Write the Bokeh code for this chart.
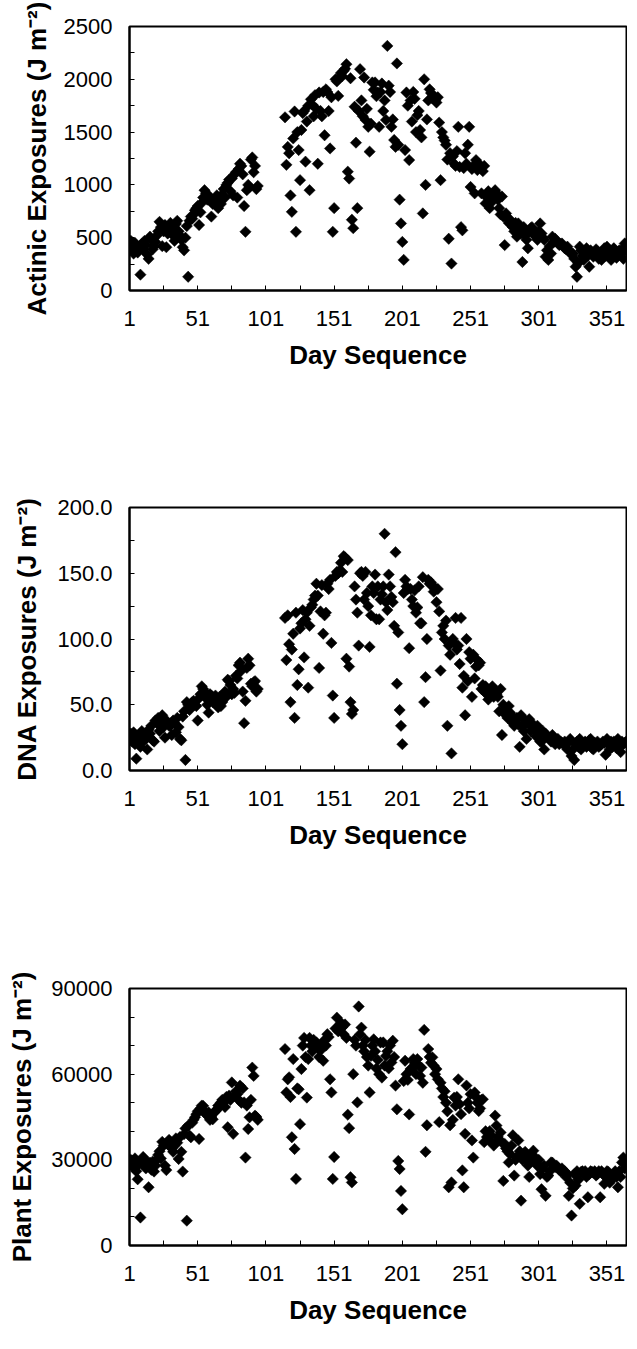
import numpy as np
from bokeh.plotting import figure
from bokeh.layouts import column
from bokeh.models import FixedTicker, Range1d, NumeralTickFormatter
from bokeh.embed import file_html
from bokeh.resources import INLINE

# ---------------- data ----------------
# days 1..95 (before gap) and 115..365 (after gap)
actinic_pre = [
    400, 470, 380, 350, 450, 420, 360, 410, 150, 440,
    390, 470, 430, 340, 300, 510, 480, 390, 420, 460,
    520, 560, 650, 600, 420, 560, 620, 410, 540, 600,
    640, 580, 520, 470, 630, 660, 560, 520, 480, 410,
    380, 500, 610, 130, 660, 700, 680, 720, 760, 780,
    800, 620, 740, 830, 880, 950, 920, 860, 900, 870,
    700, 820, 840, 860, 900, 780, 880, 820, 910, 960,
    880, 1000, 1020, 1050, 940, 1060, 900, 1100, 1120, 880,
    1150, 1200, 1180, 1100, 800, 556, 950, 1000, 980, 1240,
    1260, 1120, 1180, 960, 990,
]
actinic_post = [
    1640, 1190, 1360, 1300, 900, 745, 1440, 1695, 556, 1500,
    1330, 1045, 1520, 1680, 1700, 1220, 1600, 1750, 950, 1810,
    1760, 1650, 1850, 1720, 1200, 1875, 1700, 1650, 1880, 1470,
    1905, 1880, 1700, 1345, 1830, 556, 780, 2000, 1980, 1843,
    2020, 2060, 2030, 2080, 2100, 2143, 1125, 1060, 2010, 670,
    590, 1740, 1400, 780, 1700, 2096, 1800, 1650, 2017, 1615,
    1720, 1550, 1315, 1580, 1970, 1900, 1970, 1840, 1875, 1550,
    1880, 1960, 1700, 1800, 1615, 2316, 1940, 1880, 1550, 1620,
    1425, 1360, 2150, 1380, 860, 635, 460, 290, 1330, 1875,
    1750, 1235, 1800, 1600, 1880, 1815, 1500, 1660, 1700, 1520,
    1450, 730, 2000, 1000, 1620, 1800, 1905, 1870, 1820, 1843,
    1800, 1780, 1830, 1590, 1045, 1500, 1450, 1420, 1380, 1240,
    490, 1300, 255, 1270, 1200, 1180, 1320, 1550, 1170, 600,
    570, 1160, 1300, 1200, 1380, 1550, 980, 1150, 1180, 920,
    1235, 1140, 1200, 1170, 920, 1130, 1180, 825, 880, 940,
    780, 830, 890, 930, 950, 920, 860, 780, 720, 890,
    700, 430, 730, 680, 640, 670, 620, 600, 560, 640,
    510, 635, 580, 540, 270, 600, 520, 480, 400, 560,
    590, 600, 570, 520, 510, 480, 560, 635, 540, 500,
    480, 320, 380, 290, 420, 350, 510, 460, 490, 470,
    450, 430, 440, 445, 420, 400, 390, 415, 380, 360,
    340, 350, 300, 225, 130, 260, 415, 380, 330, 290,
    360, 400, 330, 225, 380, 350, 320, 350, 390, 370,
    300, 340, 290, 360, 400, 330, 415, 380, 340, 290,
    360, 400, 380, 310, 330, 380, 350, 390, 300, 445,
    380,
]

dna_pre = [
    24, 28, 22, 29, 20, 9, 26, 25, 18, 30,
    22, 27, 24, 16, 31, 28, 34, 23, 22, 38,
    36, 40, 30, 35, 42, 33, 25, 38, 36, 34,
    34, 27, 38, 36, 29, 40, 33, 24, 23, 41,
    45, 8, 52, 50, 46, 48, 52, 53, 50, 49,
    38, 55, 58, 64, 62, 60, 55, 50, 44, 58,
    57, 52, 55, 57, 50, 48, 56, 49, 52, 58,
    60, 56, 69, 68, 65, 58, 62, 59, 72, 70,
    80, 82, 76, 60, 36, 53, 78, 85, 80, 66,
    64, 67, 68, 60, 62,
]
dna_post = [
    116, 84, 118, 96, 52, 92, 104, 40, 120, 65,
    77, 108, 112, 122, 86, 115, 120, 63, 110, 124,
    126, 130, 133, 142, 133, 78, 121, 141, 104, 118,
    120, 142, 138, 145, 97, 57, 40, 148, 151, 150,
    152, 158, 151, 163, 162, 85, 160, 79, 52, 43,
    46, 140, 130, 120, 95, 150, 151, 148, 130, 151,
    135, 125, 94, 118, 140, 135, 149, 115, 140, 115,
    130, 134, 140, 180, 128, 122, 149, 140, 132, 128,
    110, 166, 66, 105, 46, 34, 20, 135, 145, 140,
    138, 93, 138, 130, 125, 137, 120, 124, 140, 112,
    112, 147, 52, 71, 100, 145, 142, 143, 141, 136,
    138, 128, 138, 121, 76, 105, 110, 100, 114, 34,
    95, 88, 13, 100, 97, 116, 92, 95, 81, 116,
    63, 72, 42, 100, 68, 90, 85, 56, 88, 70,
    79, 84, 80, 82, 62, 65, 60, 64, 58, 54,
    60, 62, 64, 56, 60, 58, 56, 45, 62, 27,
    50, 45, 42, 40, 49, 44, 42, 36, 34, 38,
    40, 35, 18, 42, 33, 30, 38, 24, 36, 39,
    30, 36, 33, 31, 26, 34, 28, 22, 22, 30,
    16, 28, 26, 25, 24, 22, 27, 22, 20, 23,
    24, 20, 22, 21, 20, 22, 20, 16, 22, 24,
    11, 16, 8, 20, 22, 18, 24, 16, 21, 20,
    22, 18, 21, 23, 24, 17, 16, 21, 20, 22,
    18, 19, 20, 22, 21, 12, 24, 20, 16, 22,
    18, 22, 20, 17, 24, 20, 14, 22, 20, 21,
    22,
]

plant_pre = [
    28000, 30000, 29600, 27300, 30500, 26000, 23200, 28500, 9800, 29000,
    31000, 30300, 27000, 28000, 20400, 29000, 26500, 29400, 25900, 28000,
    30000, 31700, 33000, 30500, 36300, 35000, 28000, 26400, 35500, 37000,
    36300, 34000, 32800, 35000, 37500, 36000, 30300, 38000, 32800, 25900,
    39000, 41000, 8700, 42000, 38500, 37900, 43000, 44000, 44900, 46000,
    47000, 37300, 48000, 49000, 48900, 47000, 46000, 45500, 46600, 44000,
    45000, 44200, 46500, 47000, 47700, 49000, 48500, 50100, 51000, 50000,
    48500, 52000, 41400, 52500, 51000, 57100, 39100, 52400, 54000, 53000,
    51000, 56000, 50000, 55000, 50100, 30800, 49000, 40800, 44900, 51000,
    62300, 59400, 45500, 45000, 44000,
]
plant_post = [
    68800, 53600, 58200, 58900, 52000, 37900, 65300, 33800, 23300, 55000,
    54700, 42500, 61800, 70000, 72700, 66000, 51800, 65300, 72700, 70000,
    68000, 72000, 70500, 71100, 69000, 66000, 70000, 68800, 64700, 72000,
    70000, 74000, 73000, 58200, 53600, 23300, 31000, 76000, 79800, 75000,
    77000, 78000, 76500, 74000, 77400, 72700, 45800, 41100, 23900, 22100,
    60000, 72000, 70000, 50100, 83700, 74000, 76300, 70000, 68000, 72000,
    66000, 63000, 53600, 66400, 70000, 72200, 68000, 62000, 65000, 60000,
    71100, 58800, 71100, 63000, 66400, 68000, 62000, 70000, 64100, 71700,
    66000, 56000, 47700, 29600, 26800, 19100, 12700, 57600, 64700, 60000,
    58000, 45900, 61800, 62000, 65300, 64000, 60000, 65300, 63000, 59400,
    62300, 57000, 75500, 32800, 42100, 68800, 66000, 64000, 65900, 63000,
    60000, 61800, 58200, 43200, 57000, 55000, 52000, 54000, 50000, 47000,
    20400, 42100, 22100, 44000, 51800, 49000, 52000, 58200, 49500, 46000,
    26300, 20400, 39100, 56000, 50000, 48000, 53000, 36800, 30800, 53600,
    52000, 50000, 47100, 48000, 51000, 51200, 36200, 40000, 38000, 37000,
    40000, 38600, 36000, 35000, 45500, 42000, 38000, 37000, 39600, 36000,
    22600, 35600, 34000, 33000, 29100, 32000, 35000, 38600, 24500, 30000,
    31000, 36800, 33000, 15700, 30000, 32000, 32800, 30000, 28000, 24000,
    31000, 30000, 33200, 31000, 29000, 27900, 30000, 25000, 19700, 27000,
    28000, 17400, 24000, 24500, 26000, 29100, 29000, 28000, 27500, 28000,
    27300, 26500, 26000, 27000, 25800, 26000, 24000, 25000, 17400, 22000,
    10500, 20000, 25000, 21000, 26000, 23000, 14600, 25800, 26000, 25000,
    26000, 24000, 16900, 25000, 26000, 25800, 25500, 26000, 24500, 25000,
    26000, 16900, 26000, 25000, 21600, 24000, 26000, 25800, 22000, 24000,
    23300, 25000, 26000, 24000, 20400, 26000, 24000, 29100, 30800, 27000,
    29000,
]

first_day = 1
resume_day = 115
x_major = [1, 51, 101, 151, 201, 251, 301, 351]
x_minor = [26, 76, 126, 176, 226, 276, 326]

actinic_major = [0, 500, 1000, 1500, 2000, 2500]
actinic_minor = [250, 750, 1250, 1750, 2250]
dna_major = [0, 50, 100, 150, 200]
dna_minor = [25, 75, 125, 175]
plant_major = [0, 30000, 60000, 90000]
plant_minor = [10000, 20000, 40000, 50000, 70000, 80000]

SUP = "\u207b\u00b2"
FONT = "Liberation Sans"


def days_for(pre, post):
    return list(range(first_day, first_day + len(pre))) + list(range(resume_day, resume_day + len(post)))


def make_panel(height, b_top, b_bottom, b_left, y_end, ymaj, ymin, ylabel, fmt,
               pre, post, lab_standoff):
    p = figure(width=627, height=height, x_range=Range1d(1, 365.3), y_range=Range1d(0, y_end),
               output_backend="svg", toolbar_location=None,
               min_border_left=b_left, min_border_right=1,
               min_border_top=b_top, min_border_bottom=b_bottom)
    p.grid.visible = False
    p.outline_line_color = "black"
    p.outline_line_width = 2
    p.background_fill_color = "white"
    p.border_fill_color = "white"

    days = days_for(pre, post)
    vals = list(pre) + list(post)
    p.scatter(days, vals, marker="square", angle=np.pi / 4, size=8,
              fill_color="black", line_color="black", line_width=0.5)

    xa = p.xaxis[0]
    xa.ticker = FixedTicker(ticks=x_major, minor_ticks=x_minor)
    xa.formatter = NumeralTickFormatter(format="0")
    ya = p.yaxis[0]
    ya.ticker = FixedTicker(ticks=ymaj, minor_ticks=ymin)
    ya.formatter = NumeralTickFormatter(format=fmt)

    for ax in (xa, ya):
        ax.axis_line_color = "black"
        ax.axis_line_width = 2
        ax.major_tick_in = 5
        ax.major_tick_out = 0
        ax.minor_tick_in = 5
        ax.minor_tick_out = 0
        ax.major_tick_line_color = "black"
        ax.minor_tick_line_color = "black"
        ax.major_tick_line_width = 1
        ax.minor_tick_line_width = 1
        ax.major_label_text_font = FONT
        ax.major_label_text_font_size = "22px"
        ax.major_label_text_color = "black"
        ax.axis_label_text_font = FONT
        ax.axis_label_text_font_size = "26px"
        ax.axis_label_text_font_style = "bold"
        ax.axis_label_text_color = "black"

    xa.axis_label = "Day Sequence"
    xa.major_label_standoff = 20
    xa.axis_label_standoff = 11
    ya.axis_label = ylabel
    ya.major_label_standoff = 17
    ya.axis_label_standoff = lab_standoff
    return p


p1 = make_panel(440, 26, 150, 115, 2500, actinic_major, actinic_minor,
                "Actinic Exposures (J m" + SUP + ")", "0", actinic_pre, actinic_post, 9)
p2 = make_panel(440, 67, 110, 124, 200, dna_major, dna_minor,
                "DNA Exposures (J m" + SUP + ")", "0.0", dna_pre, dna_post, 12)
p3 = make_panel(453, 108, 88, 129, 90000, plant_major, plant_minor,
                "Plant Exposures (J m" + SUP + ")", "0", plant_pre, plant_post, 11)

layout = column(p1, p2, p3, spacing=0)
open("out.html", "w").write(file_html(layout, INLINE))
